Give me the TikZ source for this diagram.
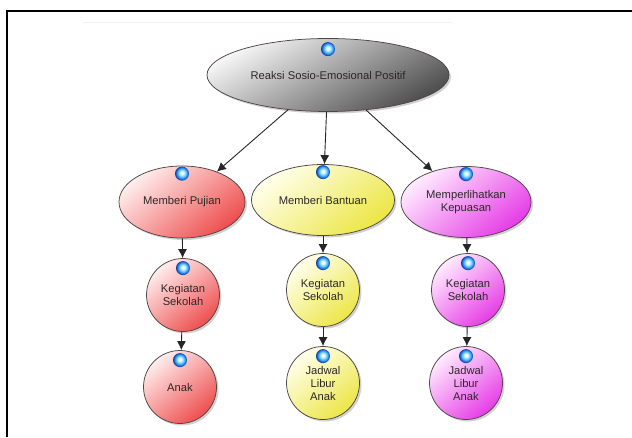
\documentclass[tikz,border=0pt]{standalone}
\usepackage{fontspec}
\setmainfont{Liberation Sans}
\usetikzlibrary{arrows.meta,shapes.geometric,shadows}
\definecolor{sph1}{RGB}{205,242,255}
\definecolor{sph2}{RGB}{95,195,250}
\definecolor{sph3}{RGB}{30,125,230}
\definecolor{sph4}{RGB}{20,70,180}
\definecolor{sph5}{RGB}{25,45,120}
\pgfdeclareradialshading{bluesphere}{\pgfpoint{0bp}{3bp}}{color(0bp)=(white); color(2bp)=(white); color(7bp)=(sph1); color(14bp)=(sph2); color(20bp)=(sph3); color(24bp)=(sph4); color(27bp)=(sph5); color(50bp)=(sph5)}
\definecolor{txt}{RGB}{45,40,40}
\definecolor{edgecol}{RGB}{80,70,70}
\tikzset{
  basenode/.style={draw=edgecol, line width=0.75pt, inner sep=0pt, text=txt,
    font=\fontsize{11.2}{13}\selectfont, align=center,
    drop shadow={shadow xshift=2pt, shadow yshift=-2pt, opacity=0.18, fill=black}},
  ell/.style={basenode, ellipse},
  circ/.style={basenode, circle, minimum size=73pt},
  redfill/.style={top color={rgb,255:red,255;green,238;blue,238}, middle color={rgb,255:red,249;green,188;blue,188}, bottom color={rgb,255:red,238;green,78;blue,78}, shading angle=40},
  yelfill/.style={top color={rgb,255:red,255;green,255;blue,236}, middle color={rgb,255:red,252;green,250;blue,178}, bottom color={rgb,255:red,236;green,230;blue,70}, shading angle=40},
  magfill/.style={top color={rgb,255:red,255;green,236;blue,255}, middle color={rgb,255:red,247;green,184;blue,247}, bottom color={rgb,255:red,230;green,60;blue,230}, shading angle=40},
  grayfill/.style={top color={rgb,255:red,246;green,246;blue,246}, middle color={rgb,255:red,190;green,190;blue,190}, bottom color={rgb,255:red,78;green,78;blue,78}, shading angle=30},
  ball/.style={circle, minimum size=14pt, inner sep=0pt, shading=bluesphere},
  arr/.style={draw=black!85, line width=0.9pt, -{Latex[length=9pt,width=9pt]}}
}
\begin{document}
\begin{tikzpicture}[x=1pt,y=1pt]
\useasboundingbox (0,0) rectangle (632,437);
\draw[line width=2pt] (7,0) -- (7,426) -- (632,426);
\draw[black!5, line width=0.6pt] (83,415) -- (452,415);

\node[ell, grayfill, minimum width=242pt, minimum height=73pt] (top) at (328,362) {Reaksi Sosio-Emosional Positif};
\node[ell, redfill, minimum width=126pt, minimum height=72pt] (puj) at (182,235) {Memberi Pujian};
\node[ell, yelfill, minimum width=143pt, minimum height=71pt] (ban) at (323,237) {Memberi Bantuan};
\node[ell, magfill, minimum width=130pt, minimum height=71pt] (kep) at (466,235) {Memperlihatkan\\Kepuasan};

\node[circ, redfill] (k1) at (183,142) {Kegiatan\\Sekolah};
\node[circ, redfill] (a1) at (180,50) {Anak};
\node[circ, yelfill] (k2) at (323,147) {Kegiatan\\Sekolah};
\node[circ, yelfill] (j2) at (323,54) {Jadwal\\Libur\\Anak};
\node[circ, magfill] (k3) at (468,147) {Kegiatan\\Sekolah};
\node[circ, magfill] (j3) at (466,54) {Jadwal\\Libur\\Anak};

\draw[arr] (top) -- (puj);
\draw[arr] (top) -- (ban);
\draw[arr] (top) -- (kep);
\draw[arr] (puj) -- (k1);
\draw[arr] (k1) -- (a1);
\draw[arr] (ban) -- (k2);
\draw[arr] (k2) -- (j2);
\draw[arr] (kep) -- (k3);
\draw[arr] (k3) -- (j3);

\node[ball] (b0) at ([yshift=-11pt]top.north) {};
\node[ball] (b1) at ([yshift=-8pt]puj.north) {};
\node[ball] (b2) at ([yshift=-8pt]ban.north) {};
\node[ball] (b3) at ([yshift=-8pt]kep.north) {};
\node[ball] (b4) at ([yshift=-10pt]k1.north) {};
\node[ball] (b5) at ([yshift=-10pt]a1.north) {};
\node[ball] (b6) at ([yshift=-10pt]k2.north) {};
\node[ball] (b7) at ([yshift=-10pt]j2.north) {};
\node[ball] (b8) at ([yshift=-10pt]k3.north) {};
\node[ball] (b9) at ([yshift=-10pt]j3.north) {};
\end{tikzpicture}
\end{document}
